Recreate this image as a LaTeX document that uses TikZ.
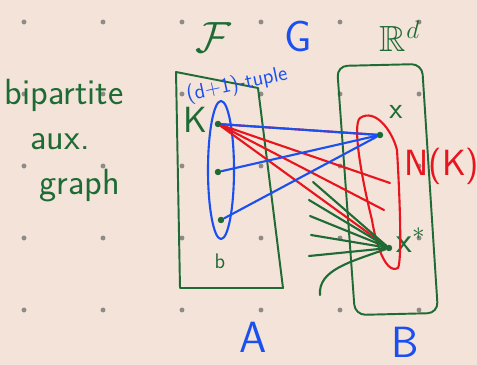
\documentclass[tikz,border=0pt]{standalone}
\usepackage{amsmath, amssymb}
\usepackage{tikz}
\usetikzlibrary{arrows.meta, positioning, calc, shapes.geometric, fit}
\usepackage{xcolor}
\definecolor{inkgreen}{HTML}{1E6B35}
\definecolor{inkblue}{HTML}{1A4FF0}
\definecolor{inkred}{HTML}{E8141E}
\definecolor{paper}{HTML}{F3E3D8}
\definecolor{dotgray}{HTML}{8E8A86}

\begin{document}
\begin{tikzpicture}[
  x=0.02cm, y=-0.02cm,
  ink/.style={line width=1.2pt, line cap=round, line join=round},
  pt/.style={circle, fill=inkgreen, inner sep=1.3pt},
  hand/.style={font=\sffamily\LARGE, inkgreen, inner sep=0pt},
  big/.style={font=\sffamily\Huge, inner sep=0pt},
  gedge/.style={ink, inkgreen},
  redge/.style={ink, inkred},
  bedge/.style={ink, inkblue}
]
  % Paper and dot grid
  \fill[paper] (0,0) rectangle (477,365);
  \useasboundingbox (0,0) rectangle (477,365);
  \foreach \gx in {24,103,182,261,340,419}
    \foreach \gy in {22,94,166,238,310}
      \fill[dotgray] (\gx,\gy) circle (1.4pt);

  % Side note
  \node[hand, font=\sffamily\huge] (bip) at (64,95) {bipartite};
  \node[hand, font=\sffamily\huge] (aux) at (60,142) {aux.};
  \node[hand, font=\sffamily\huge] (graph) at (80,186) {graph};

  % Headers
  \node[inkgreen, inner sep=0pt, font=\Huge] (calF) at (213,38) {$\mathcal{F}$};
  \node[big, inkblue] (G) at (298,36) {G};
  \node[inkgreen, inner sep=0pt, font=\huge] (Rd) at (400,36) {$\mathbb{R}^d$};

  % Side A
  \draw[gedge, line width=1.1pt] (176,72) -- (258,88) -- (283,288)
    -- (180,288) -- cycle;
  \node[big, inkblue] (labA) at (253,337) {A};

  % Side B
  \draw[gedge, line width=1.1pt, rounded corners=6pt] (337,66) -- (422,64)
    -- (438,313) -- (355,315) -- cycle;
  \node[big, inkblue] (labB) at (405,342) {B};

  % Points of A
  \node[pt] (k1) at (218,124) {};
  \node[pt] (k2) at (218,172) {};
  \node[pt] (k3) at (221,220) {};
  \node[hand, font=\sffamily\large] (b) at (220,261) {b};
  \node[hand, font=\sffamily\huge] (K) at (195,120) {K};

  % the tuple K
  \draw[bedge] (221,170) ellipse (13 and 69);
  \node[inkblue, font=\sffamily\large, rotate=12, inner sep=0pt] (tuple)
    at (237,85) {(d+1)-tuple};

  % Points of B
  \node[pt] (x) at (380,135) {};
  \node[hand] (xl) at (396,112) {x};
  \node[pt] (xs) at (389,248) {};
  \node[hand, font=\sffamily\huge] (xsl) at (411,240) {x$^{*}$};

  % N(K)
  \draw[redge] (360,118) .. controls (375,108) and (392,130) .. (397,150)
    .. controls (400,200) and (402,260) .. (398,268)
    .. controls (385,275) and (375,240) .. (372,220)
    .. controls (362,180) and (352,125) .. (360,118);
  \node[inkred, font=\sffamily\huge, inner sep=0pt] (NK) at (442,166) {N(K)};

  % Free ends
  \coordinate (r1) at (390,183);
  \coordinate (r2) at (384,210);
  \coordinate (g1) at (313,182);
  \coordinate (g2) at (309,200);
  \coordinate (g3) at (310,216);
  \coordinate (g4) at (311,235);
  \coordinate (g5) at (309,256);
  \coordinate (g6) at (320,295);

  % Red edges
  \draw[redge] (k1) -- (x);
  \draw[redge] (k1) -- (r1);
  \draw[redge] (k1) -- (r2);
  \draw[redge] (k1) -- (xs);

  % Green edges
  \draw[gedge] (g1) -- (xs);
  \foreach \g in {g2,g3,g4,g5}
    \draw[gedge] (\g) -- (xs);
  \draw[gedge] (xs) .. controls (350,262) and (318,270) .. (g6);

  % Blue edges
  \draw[bedge] (k1) -- (x);
  \draw[bedge] (k2) -- (x);
  \draw[bedge] (k3) -- (x);
\end{tikzpicture}
\end{document}
